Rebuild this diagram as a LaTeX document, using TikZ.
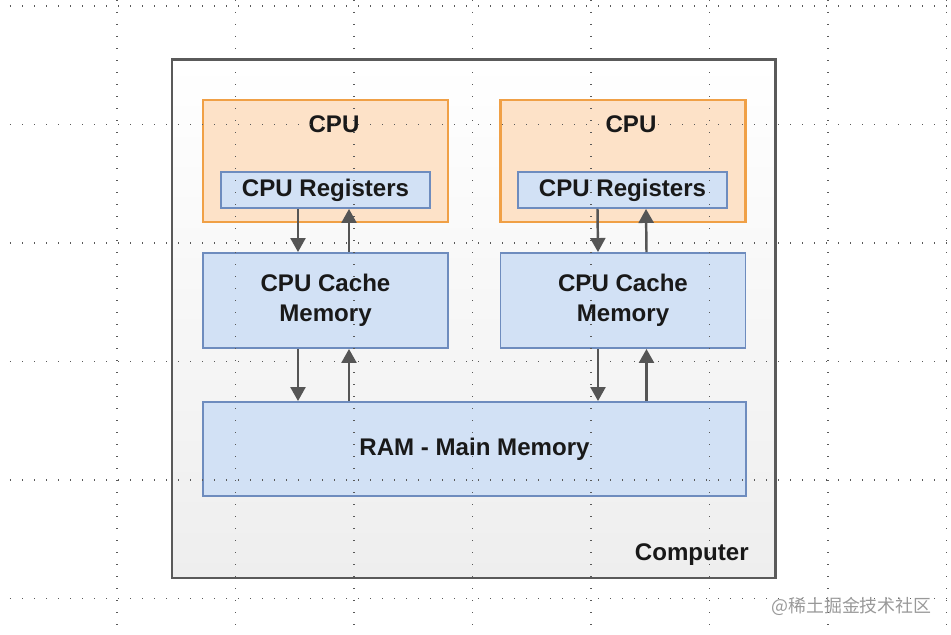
\documentclass[tikz,border=0pt]{standalone}
\usepackage{fontspec}
\setmainfont{Liberation Sans}
\newfontfamily\cjk{Noto Sans CJK SC}
\usetikzlibrary{arrows.meta,calc}
\definecolor{pcborder}{RGB}{90,90,90}
\definecolor{pcfill}{RGB}{238,238,238}
\definecolor{cpuborder}{RGB}{240,160,70}
\definecolor{cpufill}{RGB}{253,226,200}
\definecolor{memborder}{RGB}{110,140,190}
\definecolor{memfill}{RGB}{210,225,245}
\definecolor{arrgray}{RGB}{85,85,85}
\definecolor{txtdark}{RGB}{25,25,25}
\tikzset{
	boxtext/.style={font=\bfseries\fontsize{13.7}{17}\selectfont, text=txtdark, align=center},
	cpubox/.style={draw=cpuborder, line width=1.4pt, fill=cpufill, minimum width=4.9cm, minimum height=2.44cm, inner sep=0pt},
	membox/.style={draw=memborder, line width=1.1pt, fill=memfill, inner sep=0pt, boxtext},
	busarrow/.style={draw=arrgray, line width=1.4pt, -{Triangle[length=0.28cm, width=0.3cm]}},
	griddots/.style={black!65, line width=0.8pt, dash pattern=on 0.6pt off 6.23pt}
}

\begin{document}
\begin{tikzpicture}
		%%%%% START %%%%%
		\useasboundingbox (0, 0) rectangle (19.02, 12.7);
		
		% computer
		\node[draw=pcborder, line width=1.7pt, top color=white, bottom color=pcfill, minimum width=12.06cm, minimum height=10.36cm, inner sep=0pt] (computer) at (9.47, 6.32) {};
		\node[boxtext, anchor=east, inner sep=0pt] (pclabel) at (14.98, 1.6) {Computer};
		
		% the two cpus
		\node[cpubox] (cpu1) at (6.51, 9.48) {};
		\node[cpubox] (cpu2) at (12.46, 9.48) {};
		\node[boxtext] (cpulabel1) at (6.68, 10.22) {CPU};
		\node[boxtext] (cpulabel2) at (12.62, 10.22) {CPU};
		
		\node[membox, minimum width=4.18cm, minimum height=0.72cm] (reg1) at (6.51, 8.9) {CPU Registers};
		\node[membox, minimum width=4.18cm, minimum height=0.72cm] (reg2) at (12.45, 8.9) {CPU Registers};
		
		\node[membox, minimum width=4.9cm, minimum height=1.9cm] (cache1) at (6.51, 6.69) {CPU Cache\\Memory};
		\node[membox, minimum width=4.9cm, minimum height=1.9cm] (cache2) at (12.46, 6.69) {CPU Cache\\Memory};
		
		\node[membox, minimum width=10.86cm, minimum height=1.88cm] (ram) at (9.49, 3.72) {RAM - Main Memory};
		
		% arrows
		\draw[busarrow] ([xshift=-0.55cm]reg1.south) -- ([xshift=-0.55cm]cache1.north);
		\draw[busarrow] ([xshift=0.47cm]cache1.north) -- ([xshift=0.47cm]reg1.south);
		\draw[busarrow] ([xshift=-0.5cm]reg2.south) -- ([xshift=-0.5cm]cache2.north);
		\draw[busarrow] ([xshift=0.47cm]cache2.north) -- ([xshift=0.47cm]reg2.south);
		
		\draw[busarrow] ([xshift=-0.55cm]cache1.south) -- ([xshift=-0.55cm]cache1.south |- ram.north);
		\draw[busarrow] ([xshift=0.47cm]cache1.south |- ram.north) -- ([xshift=0.47cm]cache1.south);
		\draw[busarrow] ([xshift=-0.5cm]cache2.south) -- ([xshift=-0.5cm]cache2.south |- ram.north);
		\draw[busarrow] ([xshift=0.47cm]cache2.south |- ram.north) -- ([xshift=0.47cm]cache2.south);
		
		% dotted grid over everything
		\foreach \k in {0,...,5}
			\draw[griddots] (0.2, {12.58-2.37*\k}) -- (19.02, {12.58-2.37*\k});
		\foreach \k in {0,...,7}
			\draw[griddots] ({2.34+2.37*\k}, 12.7) -- ({2.34+2.37*\k}, 0);
		
		% watermark
		\node[text=black!40, font=\cjk\fontsize{10.2}{12}\selectfont] (mark) at (17.03, 0.58) {@稀土掘金技术社区};
		
		%%%%% END %%%%%
	\end{tikzpicture}
\end{document}
